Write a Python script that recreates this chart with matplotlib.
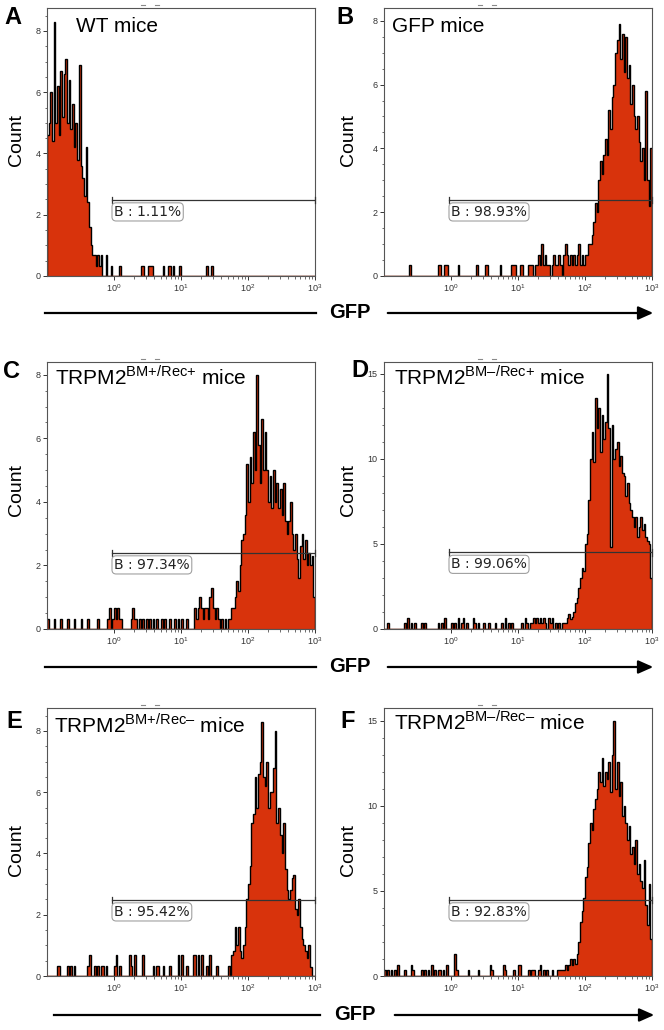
import numpy as np
import matplotlib
matplotlib.use('Agg')
import matplotlib.pyplot as plt
from matplotlib.lines import Line2D
from matplotlib.patches import FancyArrowPatch
from matplotlib.ticker import FixedLocator, MultipleLocator, NullFormatter

plt.rcParams['font.family'] = ['Liberation Sans', 'DejaVu Sans']
plt.rcParams['mathtext.fontset'] = 'custom'
plt.rcParams['mathtext.rm'] = 'Liberation Sans'

W, H = 664, 1030
RED = '#d8330c'

# histogram grid: log10(GFP) from -1 to 3, bins of 0.025 decade
LO, BW, NB = -1.0, 0.025, 160

letters = ['A', 'B', 'C', 'D', 'E', 'F']
titles = ['WT mice', 'GFP mice',
          'TRPM2$^{\\mathregular{BM{+}/Rec{+}}}$ mice',
          'TRPM2$^{\\mathregular{BM\u2013/Rec{+}}}$ mice',
          'TRPM2$^{\\mathregular{BM{+}/Rec\u2013}}$ mice',
          'TRPM2$^{\\mathregular{BM\u2013/Rec\u2013}}$ mice']
gate_pct = ['1.11%', '98.93%', '97.34%', '99.06%', '95.42%', '92.83%']
gate_level = [2.48, 2.38, 2.39, 4.5, 2.48, 4.47]
y_max = [8.75, 8.4, 8.4, 15.7, 8.75, 15.76]
y_major = [2, 2, 2, 5, 2, 5]
y_minor = [0.5, 0.5, 0.5, 1, 0.5, 1]

# dense part of each histogram (start in log10, counts per bin)
a_start = -1.0
a_peak = [4.6, 5.0, 6.0, 4.4, 8.3, 5.0, 6.2, 4.6, 6.7, 5.2, 6.6, 7.1, 5.0, 6.4, 4.8, 5.6,
          4.2, 5.0, 3.8, 6.9, 3.6, 3.2, 2.6, 4.2, 2.4, 1.6, 1.0, 0.7, 0.67, 0.33, 0.67, 0.33]
a_tail_pos = [-0.18, -0.12, -0.04, 0.08, 0.42, 0.44, 0.52, 0.54, 0.57, 0.74, 0.81, 0.84, 0.88, 0.99, 1.39, 1.47]
a_tail_h = [0.67, 0.67, 0.33, 0.33, 0.33, 0.33, 0.33, 0.33, 0.33, 0.33, 0.33, 0.33, 0.33, 0.33, 0.33, 0.33]

b_start = 1.2
b_peak = [0.33, 0, 0.33, 0.33, 0.67, 0.33, 1.0, 0.33, 0.67, 0.33, 0.33, 0, 0.33, 0.67, 0.33, 0.33,
          0.67, 0.33, 0, 0.67, 1.0, 0.67, 0.33, 0.67, 0.33, 0.67, 0.33, 0.67, 1.0, 0.33, 0.67, 0.33,
          0.67, 0.67, 1.0, 1.0, 1.3, 1.7, 2.3, 2.0, 3.0, 3.6, 3.2, 3.8, 4.3, 3.8, 5.2, 4.6,
          5.6, 6.0, 7.0, 7.4, 7.9, 6.8, 7.6, 6.4, 7.5, 6.2, 6.6, 5.4, 6.0, 5.0, 4.6, 5.0,
          4.2, 3.6, 4.0, 3.0, 5.8, 3.0, 2.2, 4.0]
b_tail_pos = [-0.62, -0.19, -0.17, -0.08, -0.06, 0.12, 0.40, 0.52, 0.54, 0.74, 0.91, 0.94, 0.96, 1.04, 1.06, 1.16, 1.19]
b_tail_h = [0.33] * 17

c_start = 1.2
c_peak = [0.67, 0.33, 0.67, 1.0, 0.67, 0.33, 0.67, 0.67, 0.33, 1.0, 1.3, 0.67, 0.33, 0.67, 0.33, 0,
          0.33, 0, 0.33, 0, 0.33, 0.33, 0.67, 0.67, 1.0, 1.5, 1.2, 2.0, 2.8, 3.0, 3.6, 5.2,
          4.0, 5.4, 4.6, 6.2, 5.0, 8.0, 5.8, 4.6, 6.6, 5.0, 6.2, 5.0, 4.0, 4.8, 3.8, 5.0,
          4.0, 4.6, 3.8, 4.4, 3.6, 4.6, 3.4, 3.0, 3.4, 4.0, 3.0, 2.5, 3.0, 2.2, 1.6, 2.6,
          3.0, 2.2, 2.8, 2.0, 2.4, 2.0, 2.3, 1.0]
c_tail_pos = [-0.99, -0.89, -0.79, -0.69, -0.59, -0.49, -0.39, -0.25, -0.09, -0.06, -0.02, 0.01, 0.04, 0.07,
              0.09, 0.12, 0.27, 0.29, 0.32, 0.34, 0.39, 0.44, 0.49, 0.54, 0.59, 0.64, 0.71, 0.76, 0.84,
              0.91, 0.96, 1.01, 1.09]
c_tail_h = [0.33, 0.33, 0.33, 0.33, 0.33, 0.33, 0.33, 0.33, 0.33, 0.67, 0.33, 0.67, 0.33, 0.67,
            0.33, 0.33, 0.33, 0.67, 0.33, 0.33, 0.33, 0.33, 0.33, 0.33, 0.33, 0.33, 0.33, 0.33, 0.33,
            0.33, 0.33, 0.33, 0.33]

d_start = 1.2
d_peak = [0.33, 0.67, 0.33, 0.67, 0.33, 0.67, 0.33, 0.67, 0.33, 0, 0.67, 0.33, 0.67, 0, 0.33, 0,
          0.33, 0, 0.33, 0.33, 0.33, 0.67, 0.9, 0.6, 0.7, 1.0, 1.5, 1.8, 2.4, 3.0, 3.6, 3.4,
          5.0, 5.6, 7.6, 10.0, 11.6, 9.8, 13.6, 11.8, 13.0, 10.4, 12.6, 11.2, 12.2, 15.0, 11.8, 4.8,
          12.0, 10.0, 10.6, 11.0, 9.6, 10.2, 9.2, 9.0, 7.8, 8.6, 7.4, 7.0, 6.6, 6.0, 6.6, 5.4,
          6.0, 6.6, 5.8, 6.2, 5.4, 5.2, 5.0, 3.0]
d_tail_pos = [-0.93, -0.68, -0.64, -0.60, -0.53, -0.45, -0.38, -0.20, -0.13, -0.08, 0.0, 0.02, 0.07, 0.12,
              0.16, 0.19, 0.24, 0.34, 0.37, 0.42, 0.49, 0.57, 0.66, 0.76, 0.81, 0.86, 0.91, 1.06, 1.10,
              1.14, 1.19]
d_tail_h = [0.33, 0.33, 0.67, 0.33, 0.33, 0.33, 0.33, 0.33, 0.33, 0.67, 0.67, 0.33, 0.33, 0.67,
            0.33, 0.67, 0.33, 0.67, 0.33, 0.33, 0.33, 0.33, 0.33, 0.33, 0.67, 0.33, 0.33, 0.33, 0.67,
            0.33, 0.33]

e_start = 1.2
e_peak = [0.67, 0, 0.67, 0, 0.67, 0, 0, 0.33, 0, 0.67, 0, 0, 0, 0.33, 0, 0,
          0, 0, 0, 0, 0.33, 0, 0.7, 0.8, 1.6, 1.0, 1.6, 0.8, 0.6, 1.0, 1.6, 2.5,
          3.0, 3.6, 5.0, 5.3, 6.5, 5.5, 6.6, 7.0, 8.3, 6.5, 6.2, 7.0, 5.5, 6.0, 6.0, 6.8,
          8.0, 5.0, 5.5, 4.6, 4.0, 5.0, 3.5, 2.8, 2.5, 2.8, 3.2, 3.3, 2.2, 2.0, 2.5, 1.6,
          1.2, 1.0, 0.8, 0.6, 1.0, 0.3, 0, 0]
e_tail_pos = [-0.85, -0.80, -0.68, -0.63, -0.59, -0.39, -0.36, -0.28, -0.24, -0.20, -0.16, -0.11, 0.02, 0.04,
              0.08, 0.24, 0.27, 0.32, 0.44, 0.59, 0.63, 0.66, 0.74, 0.84, 0.96, 1.01, 1.09, 1.18]
e_tail_h = [0.33, 0.33, 0.33, 0.33, 0.33, 0.33, 0.67, 0.33, 0.33, 0.33, 0.33, 0.33, 0.33, 0.67,
            0.33, 0.67, 0.33, 0.67, 0.67, 0.33, 0.33, 0.33, 0.33, 0.33, 0.67, 0.67, 0.33, 0.67]

f_start = 1.2
f_peak = [0.33, 0.33, 0, 0, 0.33, 0.67, 0, 0.33, 0, 0.33, 0, 0, 0.33, 0, 0, 0.33,
          0.33, 0.33, 0.33, 0.33, 0.67, 0.33, 0.67, 1.0, 0.67, 1.0, 0.7, 1.3, 2.0, 3.2, 3.8, 4.6,
          5.8, 6.4, 7.8, 9.0, 8.6, 9.8, 10.4, 11.0, 12.0, 11.4, 12.8, 11.2, 12.0, 11.6, 12.6, 10.8,
          13.0, 15.0, 11.0, 12.6, 10.6, 11.4, 9.4, 10.0, 9.0, 8.0, 8.8, 7.2, 7.6, 6.6, 8.0, 6.0,
          6.6, 5.6, 5.2, 6.8, 4.2, 3.0, 5.4, 2.2]
f_tail_pos = [-0.98, -0.95, -0.93, -0.89, -0.85, -0.83, -0.78, -0.70, -0.58, -0.55, -0.45, -0.38, -0.35, -0.33,
              -0.28, -0.24, -0.20, -0.16, -0.11, -0.06, 0.07, 0.09, 0.27, 0.42, 0.59, 0.61, 0.79, 0.82,
              0.94, 1.01, 1.05, 1.16]
f_tail_h = [0.33, 0.33, 0.33, 0.33, 0.33, 0.33, 0.67, 0.33, 0.67, 0.33, 0.33, 0.33, 0.67, 0.33,
            0.67, 0.33, 0.33, 0.33, 0.33, 0.67, 1.3, 0.33, 0.33, 0.33, 0.67, 0.33, 0.67, 0.33,
            0.33, 0.67, 0.67, 0.33]

starts = [a_start, b_start, c_start, d_start, e_start, f_start]
peaks = [a_peak, b_peak, c_peak, d_peak, e_peak, f_peak]
tails_pos = [a_tail_pos, b_tail_pos, c_tail_pos, d_tail_pos, e_tail_pos, f_tail_pos]
tails_h = [a_tail_h, b_tail_h, c_tail_h, d_tail_h, e_tail_h, f_tail_h]


def counts_for(i):
    c = np.zeros(NB)
    for p, h in zip(tails_pos[i], tails_h[i]):
        c[int((p - LO) / BW)] = h
    s = int(round((starts[i] - LO) / BW))
    c[s:s + len(peaks[i])] = peaks[i]
    return c


edges = 10 ** (LO + BW * np.arange(NB + 1))

# panel boxes in pixels: x0, x1 / y_top, y_bottom
cols = [(47, 315), (384, 652)]
rows = [(8, 276), (362, 629), (708, 976)]
letter_pos = [(13, 18), (345, 18), (11, 371), (360, 370), (14, 721), (348, 721)]
count_x = [17, 349]
count_y = [140, 490, 850]
title_xy = [(0.11, 0.91), (0.03, 0.91), (0.03, 0.914), (0.037, 0.914), (0.025, 0.907), (0.037, 0.918)]

fig = plt.figure(figsize=(W / 100, H / 100), dpi=100)


def fx(x):
    return x / W


def fy(y):
    return 1 - y / H


for i in range(6):
    r, cidx = divmod(i, 2)
    x0, x1 = cols[cidx]
    yt, yb = rows[r]
    ax = fig.add_axes([fx(x0), fy(yb), (x1 - x0) / W, (yb - yt) / H])
    counts = counts_for(i)
    ax.stairs(counts, edges, fill=True, color=RED, lw=0)
    ax.stairs(counts, edges, color='black', lw=1.0)
    ax.axhline(0, color='#b5381c', lw=1.0, zorder=3)
    ax.set_xscale('log')
    ax.set_xlim(0.1, 1000)
    ax.set_ylim(0, y_max[i])
    ax.xaxis.set_major_locator(FixedLocator([1, 10, 100, 1000]))
    ax.set_xticklabels(['$10^{0}$', '$10^{1}$', '$10^{2}$', '$10^{3}$'])
    ax.xaxis.set_minor_locator(FixedLocator([m * d for d in (1, 10, 100) for m in range(2, 10)]))
    ax.xaxis.set_minor_formatter(NullFormatter())
    ax.yaxis.set_major_locator(MultipleLocator(y_major[i]))
    ax.yaxis.set_minor_locator(MultipleLocator(y_minor[i]))
    ax.tick_params(which='major', length=3, width=0.7, labelsize=6.5, pad=1.5, colors='#333333')
    ax.tick_params(which='minor', length=1.8, width=0.5, colors='#333333')
    for sp in ax.spines.values():
        sp.set_color('#555555')
        sp.set_linewidth(0.8)

    # gate marker
    g0 = 10 ** -0.03
    gy = gate_level[i]
    tk = y_max[i] * 0.012
    ax.plot([g0, 1000], [gy, gy], color='#333333', lw=0.9, zorder=4)
    ax.plot([g0, g0], [gy - tk, gy + tk], color='#333333', lw=0.9, zorder=4)
    ax.plot([1000, 1000], [gy - tk, gy + tk], color='#333333', lw=0.9, zorder=4, clip_on=False)
    ax.annotate('B : ' + gate_pct[i], xy=(g0, gy), xytext=(1.5, -3.5), textcoords='offset points',
                ha='left', va='top', fontsize=10, family='DejaVu Sans', color='#222222', zorder=5,
                bbox=dict(boxstyle='round,pad=0.15,rounding_size=0.3', fc='white', ec='#a0a0a0', lw=0.8))

    ax.text(title_xy[i][0], title_xy[i][1], titles[i], transform=ax.transAxes,
            fontsize=15, ha='left', va='baseline')

    # two tiny grey dashes above each panel
    for dx in (94, 108):
        fig.add_artist(Line2D([fx(x0 + dx), fx(x0 + dx + 4)], [fy(yt - 3), fy(yt - 3)],
                              color='#8a8a8a', lw=0.8, transform=fig.transFigure))

    lx, ly = letter_pos[i]
    fig.text(fx(lx), fy(ly), letters[i], fontsize=17, fontweight='bold', ha='center', va='center')
    fig.text(fx(count_x[cidx]), fy(count_y[r]), 'Count', fontsize=14, rotation=90,
             ha='center', va='center')

# GFP axis arrows under each row: y, line start, line end, text x, arrow start, arrow end
arrow_rows = [(313, 45, 316, 350, 385, 656), (667, 45, 316, 350, 385, 656), (1015, 54, 320, 355, 392, 657)]
for y, l0, l1, gx, a0, a1 in arrow_rows:
    fig.add_artist(Line2D([fx(l0), fx(l1)], [fy(y), fy(y)], color='black', lw=1.6,
                          transform=fig.transFigure))
    fig.text(fx(gx), fy(y), 'GFP', fontsize=14.5, fontweight='bold', ha='center', va='center')
    fig.add_artist(FancyArrowPatch(
        (fx(a0), fy(y)), (fx(a1), fy(y)), transform=fig.transFigure,
        arrowstyle='-|>,head_length=9,head_width=4', mutation_scale=1, lw=1.6, color='black'))

fig.savefig('out.png', dpi=100)
plt.close(fig)
